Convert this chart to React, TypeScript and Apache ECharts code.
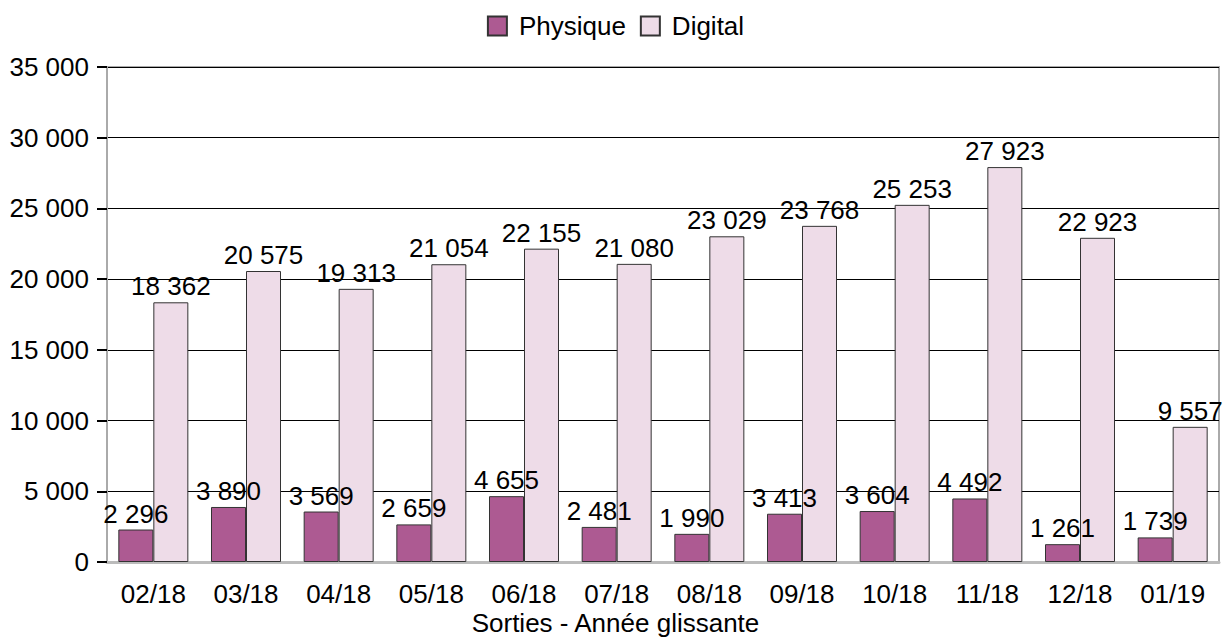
import React, { useEffect, useRef } from "react";
import * as echarts from "echarts";

const categories = ["02/18", "03/18", "04/18", "05/18", "06/18", "07/18", "08/18", "09/18", "10/18", "11/18", "12/18", "01/19"];
const physique = [2296, 3890, 3569, 2659, 4655, 2481, 1990, 3413, 3604, 4492, 1261, 1739];
const digital = [18362, 20575, 19313, 21054, 22155, 21080, 23029, 23768, 25253, 27923, 22923, 9557];
const seriesNames = ["Physique", "Digital"];
const axisTitle = "Sorties - Année glissante";

const FONT = "'Liberation Sans', Arial, sans-serif";
const FS = 26;
const fmt = (v: number) => String(v).replace(/\B(?=(\d{3})+(?!\d))/g, " ");

export default function App() {
  const ref = useRef<HTMLDivElement>(null);
  useEffect(() => {
    document.body.style.margin = "0";
    const chart = echarts.init(ref.current!, null, { renderer: "svg" });
    const label = {
      show: true,
      position: "top" as const,
      distance: 3,
      color: "#000",
      fontSize: FS,
      fontFamily: FONT,
      formatter: (p: any) => fmt(p.value),
    };
    chart.setOption({
      animation: false,
      backgroundColor: "#fff",
      textStyle: { fontFamily: FONT },
      title: {
        text: axisTitle,
        left: "center",
        top: 610,
        padding: 0,
        textStyle: { fontSize: FS, fontWeight: "normal", color: "#000", fontFamily: FONT, lineHeight: FS },
      },
      legend: {
        top: 8,
        left: "center",
        itemWidth: 19,
        itemHeight: 19,
        itemGap: 14,
        icon: "rect",
        textStyle: { fontSize: FS, color: "#000", fontFamily: FONT, padding: [0, 0, 0, 7] },
        data: seriesNames,
      },
      grid: {
        left: 107,
        right: 12,
        top: 67,
        bottom: 77,
        show: true,
        borderColor: "#aaaaaa",
        borderWidth: 2,
      },
      xAxis: {
        type: "category",
        data: categories,
        axisLine: { show: true, lineStyle: { color: "#bbbbbb", width: 3 } },
        axisTick: { show: false },
        axisLabel: { fontSize: FS, color: "#000", margin: 19, fontFamily: FONT },
      },
      yAxis: {
        type: "value",
        min: 0,
        max: 35000,
        interval: 5000,
        axisLine: { show: true, lineStyle: { color: "#aaaaaa", width: 2 } },
        axisTick: { show: true, inside: false, length: 10, lineStyle: { color: "#000", width: 2 } },
        splitLine: { show: true, lineStyle: { color: "#000", width: 1 } },
        axisLabel: { fontSize: FS, color: "#000", margin: 18, fontFamily: FONT, formatter: (v: number) => fmt(v) },
      },
      series: [
        {
          name: seriesNames[0],
          type: "bar",
          data: physique,
          barWidth: 35,
          barGap: "0%",
          itemStyle: { color: "#ad5a92", borderColor: "#333", borderWidth: 1 },
          label,
        },
        {
          name: seriesNames[1],
          type: "bar",
          data: digital,
          barWidth: 35,
          barGap: "0%",
          itemStyle: { color: "#eedce8", borderColor: "#333", borderWidth: 1 },
          label,
        },
      ],
    });
    return () => chart.dispose();
  }, []);
  return <div ref={ref} style={{ width: 1231, height: 639 }} />;
}
